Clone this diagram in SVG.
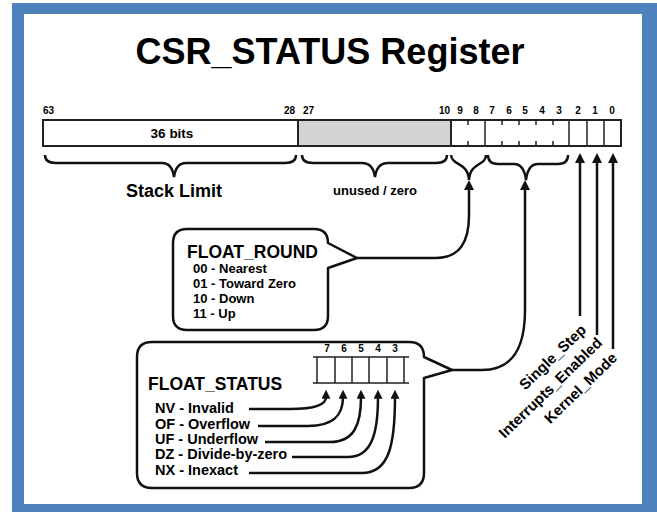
<svg xmlns="http://www.w3.org/2000/svg" width="657" height="512" viewBox="0 0 657 512">
<style>
text{font-family:"Liberation Sans",Arial,sans-serif;font-weight:bold;fill:#000}
.ln{fill:none;stroke:#111;stroke-width:2.5}
.bx{fill:#fff;stroke:#111;stroke-width:2.5;stroke-linejoin:round}
.reg{fill:#fff;stroke:#222;stroke-width:2}
.tk{stroke:#222;stroke-width:1.5}
.bit{font-size:10px}
.lab{font-size:13px}
.lab2{font-size:14.5px}
</style>
<defs>
<marker id="ah" viewBox="0 0 10 10" refX="2" refY="5" markerWidth="11" markerHeight="10" markerUnits="userSpaceOnUse" orient="auto">
<path d="M0,0 L10,5 L0,10 Z" fill="#111"/>
</marker>
<marker id="ahs" viewBox="0 0 10 10" refX="2" refY="5" markerWidth="10" markerHeight="9" markerUnits="userSpaceOnUse" orient="auto">
<path d="M0,0 L10,5 L0,10 Z" fill="#111"/>
</marker>
</defs>
<rect x="0" y="0" width="657" height="512" fill="#fff"/>
<rect x="12" y="3" width="645" height="509" fill="#4F81BD"/>
<rect x="24" y="14" width="618" height="490" fill="#fff"/>
<g id="title"><text x="330" y="64" font-size="37" text-anchor="middle" textLength="389" lengthAdjust="spacingAndGlyphs">CSR_STATUS Register</text></g>
<g id="register">
<rect class="reg" x="43" y="120" width="578" height="26"/>
<rect x="298" y="120" width="153" height="26" fill="#d3d3d3" stroke="#222" stroke-width="2"/>
<path class="tk" stroke-width="2" d="M485,120 V146 M569,120 V146 M587,120 V146 M604,120 V146"/>
<path class="tk" d="M468,120 v5 M468,141 v5 M502,120 v5 M502,141 v5 M519,120 v5 M519,141 v5 M536,120 v5 M536,141 v5 M553,120 v5 M553,141 v5"/>
<text x="172" y="138" font-size="13.5" text-anchor="middle">36 bits</text>
<g class="bit">
<text x="43" y="114">63</text>
<text x="295" y="114" text-anchor="end">28</text>
<text x="303" y="114">27</text>
<text x="450" y="114" text-anchor="end">10</text>
<text x="460" y="114" text-anchor="middle">9</text>
<text x="476" y="114" text-anchor="middle">8</text>
<text x="492" y="114" text-anchor="middle">7</text>
<text x="509" y="114" text-anchor="middle">6</text>
<text x="525" y="114" text-anchor="middle">5</text>
<text x="542" y="114" text-anchor="middle">4</text>
<text x="559" y="114" text-anchor="middle">3</text>
<text x="578" y="114" text-anchor="middle">2</text>
<text x="595" y="114" text-anchor="middle">1</text>
<text x="612" y="114" text-anchor="middle">0</text>
</g>
</g>
<g id="braces">
<path class="ln" d="M45,155 Q45,163 56,163 L162,163 Q172,163 174,177 Q176,163 186,163 L285,163 Q296,163 296,155"/>
<path class="ln" d="M302,155 Q302,163 313,163 L362,163 Q373,163 375,177 Q377,163 388,163 L436,163 Q447,163 447,155"/>
<path class="ln" d="M451,155 C452,166 468,162 469,180 C470,162 486,166 486,155"/>
<path class="ln" d="M488,155 Q488,164 498,164 L514,164 Q524,164 526,180 Q528,164 538,164 L558,164 Q568,164 568,155"/>
<text x="174" y="197" font-size="18" text-anchor="middle">Stack Limit</text>
<text x="375" y="195" class="lab" text-anchor="middle">unused / zero</text>
</g>
<g id="float_round">
<path class="bx" d="M187,229 L314,229 Q328,229 328,243 L357,258 L328,268 L328,316 Q328,330 314,330 L187,330 Q173,330 173,316 L173,243 Q173,229 187,229 Z"/>
<text x="187" y="258" font-size="17.5">FLOAT_ROUND</text>
<text x="193" y="273" class="lab">00 - Nearest</text>
<text x="193" y="288" class="lab">01 - Toward Zero</text>
<text x="193" y="303" class="lab">10 - Down</text>
<text x="193" y="318" class="lab">11 - Up</text>
</g>
<g id="float_status">
<path class="bx" d="M152,342 L409,342 Q424,342 424,357 L452,370 L424,378 L424,473 Q424,488 409,488 L152,488 Q137,488 137,473 L137,357 Q137,342 152,342 Z"/>
<text x="148" y="390" font-size="17.5">FLOAT_STATUS</text>
<path class="tk" stroke-width="2" d="M313,357 H409 M313,383 H409 M317,357 V383 M335,357 V383 M352,357 V383 M369,357 V383 M387,357 V383 M404,357 V383"/>
<g class="bit">
<text x="327" y="352" text-anchor="middle">7</text>
<text x="344" y="352" text-anchor="middle">6</text>
<text x="361" y="352" text-anchor="middle">5</text>
<text x="378" y="352" text-anchor="middle">4</text>
<text x="395" y="352" text-anchor="middle">3</text>
</g>
<text x="155" y="413" class="lab2">NV - Invalid</text>
<text x="155" y="429" class="lab2">OF - Overflow</text>
<text x="155" y="444" class="lab2">UF - Underflow</text>
<text x="155" y="459" class="lab2">DZ - Divide-by-zero</text>
<text x="155" y="475" class="lab2">NX - Inexact</text>
</g>
<g id="bit_labels">
<text transform="translate(587,331) rotate(-44)" font-size="15" text-anchor="end">Single_Step</text>
<text transform="translate(603,344) rotate(-44)" font-size="15" text-anchor="end">Interrupts_Enabled</text>
<text transform="translate(618,359) rotate(-44)" font-size="15" text-anchor="end">Kernel_Mode</text>
</g>
<g id="connectors">
<path class="ln" marker-end="url(#ah)" d="M357,258 L435,258 C460,258 469,242 469,215 L469,188"/>
<path class="ln" marker-end="url(#ah)" d="M452,370 L482,370 C514,370 525,346 525,310 L525,188"/>
<path class="ln" marker-end="url(#ah)" d="M580,316 V161"/>
<path class="ln" marker-end="url(#ah)" d="M597,335 V161"/>
<path class="ln" marker-end="url(#ah)" d="M613,349 V161"/>
<path class="ln" marker-end="url(#ahs)" d="M249,409 L290,409 C314,409 326,405 326,397"/>
<path class="ln" marker-end="url(#ahs)" d="M258,426 L308,426 C334,426 343,415 343,397"/>
<path class="ln" marker-end="url(#ahs)" d="M265,442 L330,442 C354,442 361,425 361,397"/>
<path class="ln" marker-end="url(#ahs)" d="M292,457 L348,457 C371,457 378,435 378,397"/>
<path class="ln" marker-end="url(#ahs)" d="M249,473 L362,473 C389,473 395,445 395,397"/>
</g>
</svg>
